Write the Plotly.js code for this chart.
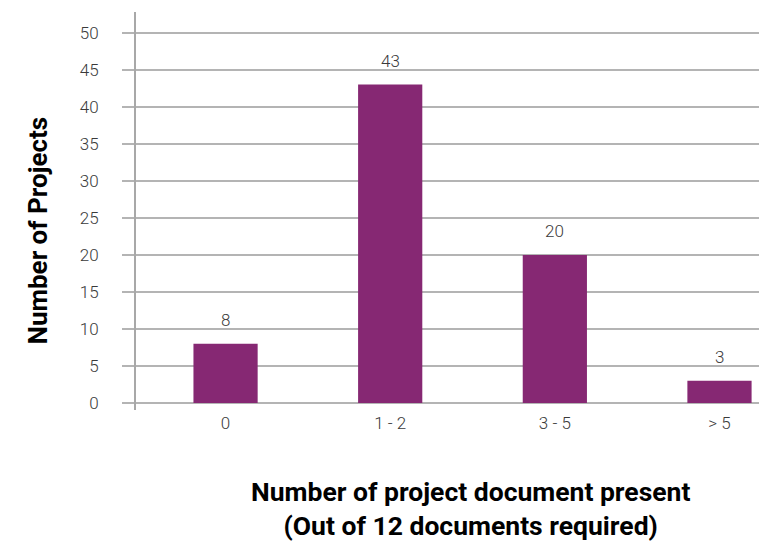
<!DOCTYPE html>
<html>
<head>
<meta charset="utf-8">
<script src="https://cdn.plot.ly/plotly-3.0.1.min.js"></script>
<style>html,body{margin:0;padding:0;background:#fff;}#chart{width:759px;height:543px;}</style>
</head>
<body>
<div id="chart"></div>
<script>
const categories = ["0", "1 - 2", "3 - 5", "> 5"];
const projectCounts = [8, 43, 20, 3];
const yTickValues = [0, 5, 10, 15, 20, 25, 30, 35, 40, 45, 50];

const FONT = "Roboto, 'Liberation Sans Narrow', sans-serif";
const BAR_COLOR = "#862873";

const trace = {
  type: "bar",
  x: categories,
  y: projectCounts,
  width: 0.39,
  marker: { color: BAR_COLOR },
  hoverinfo: "skip"
};

const labelAnnotations = categories.map((c, i) => ({
  x: c, y: projectCounts[i], xref: "x", yref: "y",
  text: String(projectCounts[i]), showarrow: false,
  yanchor: "bottom", yshift: 12,
  font: { family: FONT, size: 17, color: "#3a3a3a", weight: 300 }
}));

const layout = {
  width: 759, height: 543,
  margin: { l: 135, r: 0, t: 12, b: 140 },
  paper_bgcolor: "#fff", plot_bgcolor: "#fff",
  showlegend: false,
  xaxis: {
    type: "category",
    range: [-0.55, 3.24],
    showgrid: false,
    zeroline: false,
    showline: false,
    ticks: "",
    ticklabelstandoff: 8,
    tickfont: { family: FONT, size: 17, color: "#3a3a3a", weight: 300 },
    fixedrange: true
  },
  yaxis: {
    range: [0, 52.8],
    tickvals: yTickValues,
    ticks: "outside",
    ticklen: 12,
    tickwidth: 2,
    tickcolor: "#b4b4b4",
    ticklabelstandoff: 20,
    showgrid: true,
    gridcolor: "#b4b4b4",
    gridwidth: 2,
    zeroline: true,
    zerolinecolor: "#b4b4b4",
    zerolinewidth: 2,
    showline: false,
    tickfont: { family: FONT, size: 17, color: "#3a3a3a", weight: 300 },
    fixedrange: true
  },
  shapes: [{
    type: "line", xref: "paper", yref: "paper",
    x0: 0, x1: 0, y0: -0.018, y1: 1,
    line: { color: "#a8a8a8", width: 2 }
  }],
  annotations: labelAnnotations.concat([
    {
      text: "<b>Number of Projects</b>", textangle: -90,
      xref: "paper", yref: "paper", x: -0.155, y: 0.442,
      xanchor: "center", yanchor: "middle", showarrow: false,
      font: { family: FONT, size: 26, color: "#000" }
    },
    {
      text: "<b>Number of project document present<br>(Out of 12 documents required)</b>",
      xref: "paper", yref: "paper", x: 0.537, y: -0.182,
      xanchor: "center", yanchor: "top", showarrow: false,
      font: { family: FONT, size: 26.5, color: "#000" }
    }
  ])
};

Plotly.newPlot("chart", [trace], layout, { displayModeBar: false, staticPlot: true });
</script>
</body>
</html>
